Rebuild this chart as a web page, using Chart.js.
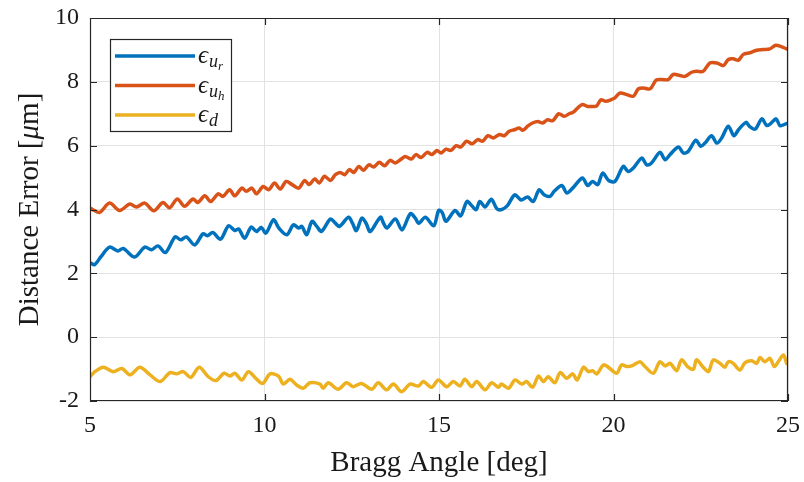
<!DOCTYPE html>
<html>
<head>
<meta charset="utf-8">
<script src="https://cdn.jsdelivr.net/npm/chart.js@4"></script>
<style>
  html, body { margin: 0; padding: 0; background: #fff; }
  #chart { display: block; }
</style>
</head>
<body>
<canvas id="chart" width="804" height="482"></canvas>
<script>
// eps_ur (blue)
const urX = [5.02,5.13,5.32,5.56,5.80,5.95,6.28,6.57,6.76,6.95,7.16,7.44,7.60,7.76,8.00,8.24,8.36,8.52,8.74,8.97,
  9.15,9.26,9.43,9.62,9.77,9.91,10.04,10.26,10.41,10.64,10.83,10.98,11.07,11.21,11.36,11.50,11.63,11.89,12.03,12.15,
  12.41,12.52,12.63,12.79,12.91,13.03,13.32,13.41,13.51,13.75,13.94,14.18,14.32,14.42,14.61,14.85,14.99,15.09,15.20,15.46,
  15.62,15.80,15.94,16.06,16.17,16.32,16.50,16.66,16.80,16.96,17.17,17.35,17.54,17.70,17.87,18.01,18.18,18.30,18.52,18.66,
  18.83,19.11,19.26,19.40,19.55,19.69,19.86,20.04,20.28,20.42,20.57,20.81,20.95,21.09,21.33,21.48,21.62,21.86,22.00,22.14,
  22.36,22.50,22.62,22.81,22.96,23.10,23.29,23.45,23.58,23.80,23.89,24.06,24.25,24.39,24.50,24.66,24.77,24.96];
const urY = [2.32,2.27,2.53,2.82,2.70,2.78,2.51,2.82,2.74,2.86,2.65,3.14,3.05,3.14,2.89,3.24,3.18,3.28,3.07,3.49,
  3.34,3.39,3.10,3.45,3.31,3.44,3.26,3.68,3.42,3.21,3.52,3.42,3.47,3.21,3.63,3.47,3.31,3.70,3.57,3.47,
  3.76,3.57,3.34,3.73,3.57,3.31,3.76,3.57,3.42,3.70,3.36,3.87,3.73,3.57,3.76,3.49,3.97,3.91,3.63,3.97,
  3.80,4.25,4.12,3.99,4.25,4.08,4.32,4.02,4.00,4.12,4.46,4.30,4.39,4.25,4.62,4.46,4.41,4.57,4.75,4.52,
  4.67,4.99,4.75,4.88,4.78,5.14,4.91,4.88,5.35,5.19,5.30,5.61,5.40,5.46,5.79,5.56,5.72,5.96,5.77,5.82,
  6.17,5.98,6.08,6.31,6.08,6.24,6.61,6.31,6.50,6.73,6.61,6.52,6.84,6.63,6.69,6.84,6.63,6.69];

// eps_uh (orange)
const uhX = [5.00,5.09,5.28,5.56,5.85,6.14,6.33,6.57,6.83,7.09,7.28,7.50,7.71,7.95,8.09,8.29,8.46,8.67,8.81,9.00,
  9.15,9.35,9.48,9.64,9.77,9.96,10.12,10.29,10.45,10.62,10.79,10.98,11.15,11.28,11.44,11.57,11.72,11.89,12.03,12.17,
  12.30,12.43,12.56,12.70,12.84,12.99,13.13,13.29,13.44,13.60,13.75,13.92,14.03,14.21,14.34,14.49,14.66,14.80,14.94,15.06,
  15.20,15.34,15.49,15.63,15.79,15.95,16.11,16.25,16.40,16.56,16.73,16.87,17.01,17.16,17.30,17.40,17.54,17.68,17.83,17.97,
  18.11,18.26,18.43,18.59,18.73,18.85,19.00,19.11,19.26,19.40,19.52,19.64,19.78,19.93,20.04,20.19,20.38,20.57,20.71,20.85,
  21.05,21.22,21.38,21.57,21.71,21.90,22.05,22.24,22.38,22.57,22.76,22.96,23.15,23.29,23.43,23.58,23.72,23.91,24.10,24.29,
  24.48,24.63,24.77,24.96];
const uhY = [4.05,3.99,3.91,4.20,3.97,4.17,4.08,4.20,3.96,4.22,4.05,4.33,4.10,4.33,4.22,4.43,4.25,4.49,4.41,4.62,
  4.43,4.67,4.57,4.67,4.49,4.72,4.62,4.83,4.64,4.88,4.78,4.67,4.91,4.78,4.96,4.83,5.04,4.91,5.09,5.16,
  5.09,5.25,5.16,5.35,5.23,5.40,5.33,5.48,5.37,5.54,5.46,5.58,5.66,5.58,5.72,5.63,5.79,5.72,5.85,5.77,
  5.89,5.85,6.00,5.96,6.14,6.06,6.19,6.14,6.31,6.24,6.35,6.31,6.45,6.50,6.55,6.48,6.61,6.71,6.76,6.71,
  6.81,6.78,7.00,6.92,7.00,7.05,7.21,7.29,7.23,7.23,7.25,7.44,7.39,7.44,7.50,7.65,7.60,7.55,7.78,7.81,
  7.78,8.05,8.07,8.07,8.23,8.20,8.17,8.30,8.33,8.33,8.59,8.59,8.51,8.70,8.72,8.68,8.86,8.91,8.99,9.01,
  9.03,9.14,9.12,9.03];

// eps_d (yellow)
const dX = [5.00,5.14,5.38,5.67,5.91,6.15,6.43,6.72,7.01,7.29,7.48,7.67,7.89,8.13,8.39,8.61,8.84,9.01,9.15,9.35,
  9.54,9.78,9.95,10.16,10.40,10.54,10.73,10.92,11.11,11.30,11.59,11.68,11.83,12.11,12.35,12.54,12.78,13.07,13.26,13.50,
  13.69,13.93,14.17,14.41,14.55,14.79,14.98,15.22,15.41,15.60,15.74,15.94,16.08,16.32,16.51,16.70,16.79,16.99,17.18,17.37,
  17.51,17.68,17.85,17.99,18.13,18.32,18.47,18.66,18.83,18.96,19.14,19.28,19.40,19.52,19.71,19.85,20.09,20.23,20.38,20.52,
  20.76,20.90,21.14,21.33,21.48,21.62,21.81,21.95,22.14,22.29,22.38,22.57,22.72,22.86,23.05,23.19,23.29,23.43,23.62,23.77,
  23.96,24.10,24.20,24.34,24.48,24.61,24.72,24.87,24.96];
const dY = [-1.24,-1.08,-0.94,-1.08,-0.98,-1.18,-0.94,-1.18,-1.39,-1.11,-1.15,-1.08,-1.26,-0.94,-1.24,-1.36,-1.13,-1.22,-1.13,-1.34,
  -1.08,-1.32,-1.45,-1.15,-1.22,-1.47,-1.32,-1.50,-1.60,-1.43,-1.47,-1.60,-1.43,-1.63,-1.43,-1.55,-1.45,-1.63,-1.43,-1.65,
  -1.47,-1.71,-1.47,-1.53,-1.39,-1.57,-1.34,-1.55,-1.39,-1.53,-1.32,-1.55,-1.39,-1.65,-1.43,-1.57,-1.47,-1.60,-1.34,-1.47,
  -1.39,-1.57,-1.22,-1.39,-1.24,-1.43,-1.11,-1.29,-1.15,-1.34,-0.94,-1.08,-1.05,-1.15,-0.87,-0.94,-1.13,-0.87,-0.92,-0.90,
  -0.77,-0.92,-1.13,-0.77,-0.90,-0.82,-1.05,-0.71,-0.94,-1.00,-0.71,-0.94,-1.08,-0.71,-0.82,-0.94,-0.77,-0.82,-1.03,-0.80,
  -0.74,-0.82,-0.64,-0.77,-0.66,-0.92,-0.77,-0.56,-0.82];

const xTicks = [5, 10, 15, 20, 25];
const yTicks = [-2, 0, 2, 4, 6, 8, 10];

const FONT = "'Liberation Serif', 'Times New Roman', serif";
const INK = "#1a1a1a";
const AXIS = "#262626";
const GRID = "#e2e2e2";

const series = [
  { name: "ur", sub: "r", xs: urX, ys: urY, color: "#0072BD" },
  { name: "uh", sub: "h", xs: uhX, ys: uhY, color: "#D95319" },
  { name: "d",  sub: null, xs: dX, ys: dY, color: "#EDB120" },
];

const pts = (xs, ys) => xs.map((x, i) => ({ x, y: ys[i] }));

// MATLAB style box with inward ticks on all four sides
const boxPlugin = {
  id: "box",
  afterDatasetsDraw(chart){
    const { ctx, chartArea: a, scales } = chart;
    const len = 7;
    ctx.save();
    ctx.strokeStyle = AXIS;
    ctx.lineWidth = 1.2;
    ctx.beginPath();
    ctx.rect(Math.round(a.left) + 0.5, Math.round(a.top) + 0.5,
             Math.round(a.right - a.left) - 1, Math.round(a.bottom - a.top) - 1);
    for (const v of xTicks){
      const px = Math.round(scales.x.getPixelForValue(v)) + 0.5;
      ctx.moveTo(px, a.bottom); ctx.lineTo(px, a.bottom - len);
      ctx.moveTo(px, a.top); ctx.lineTo(px, a.top + len);
    }
    for (const v of yTicks){
      const py = Math.round(scales.y.getPixelForValue(v)) + 0.5;
      ctx.moveTo(a.left, py); ctx.lineTo(a.left + len, py);
      ctx.moveTo(a.right, py); ctx.lineTo(a.right - len, py);
    }
    ctx.stroke();
    ctx.restore();
  }
};

// y title drawn by hand so mu can be italic
const yTitlePlugin = {
  id: "yTitle",
  afterDraw(chart){
    const { ctx, chartArea: a } = chart;
    const parts = [
      { t: "Distance Error [", f: `29px ${FONT}` },
      { t: "μ", f: `italic 29px ${FONT}` },
      { t: "m]", f: `29px ${FONT}` },
    ];
    ctx.save();
    let w = 0;
    for (const p of parts){ ctx.font = p.f; w += ctx.measureText(p.t).width; }
    ctx.translate(30, (a.top + a.bottom) / 2);
    ctx.rotate(-Math.PI / 2);
    ctx.fillStyle = INK;
    ctx.textBaseline = "middle";
    let x = -w / 2;
    for (const p of parts){
      ctx.font = p.f;
      ctx.fillText(p.t, x, 0);
      x += ctx.measureText(p.t).width;
    }
    ctx.restore();
  }
};

// legend box with epsilon + nested subscripts
const legendPlugin = {
  id: "epsLegend",
  afterDraw(chart){
    const { ctx, chartArea: a } = chart;
    const bx = a.left + 20, by = a.top + 21, bw = 121, bh = 92;
    ctx.save();
    ctx.fillStyle = "#fff";
    ctx.fillRect(bx, by, bw, bh);
    ctx.strokeStyle = AXIS;
    ctx.lineWidth = 1.2;
    ctx.strokeRect(Math.round(bx) + 0.5, Math.round(by) + 0.5, bw, bh);

    series.forEach((s, i) => {
      const cy = by + 17 + i * 29.5;
      ctx.strokeStyle = s.color;
      ctx.lineWidth = 3.5;
      ctx.beginPath();
      ctx.moveTo(bx + 5, cy); ctx.lineTo(bx + 85, cy);
      ctx.stroke();

      ctx.fillStyle = INK;
      ctx.textBaseline = "alphabetic";
      ctx.font = `italic 25px ${FONT}`;
      let tx = bx + 88;
      ctx.fillText("ϵ", tx, cy + 7);
      tx += ctx.measureText("ϵ").width + 1;
      ctx.font = `italic 18px ${FONT}`;
      const first = s.sub ? "u" : "d";
      ctx.fillText(first, tx, cy + 11);
      if (s.sub){
        tx += ctx.measureText("u").width;
        ctx.font = `italic 13px ${FONT}`;
        ctx.fillText(s.sub, tx, cy + 14);
      }
    });
    ctx.restore();
  }
};

new Chart(document.getElementById("chart"), {
  type: "line",
  data: {
    datasets: series.map(s => ({
      label: s.name,
      data: pts(s.xs, s.ys),
      borderColor: s.color,
      backgroundColor: s.color,
      borderWidth: 3.5,
      pointRadius: 0,
      tension: 0.3,
      borderCapStyle: "round",
      borderJoinStyle: "round",
      fill: false,
    }))
  },
  options: {
    responsive: false,
    animation: false,
    devicePixelRatio: 1,
    layout: { padding: { left: 0, right: 16, top: 18, bottom: 0 } },
    plugins: { legend: { display: false }, tooltip: { enabled: false } },
    scales: {
      x: {
        type: "linear",
        min: 5, max: 25,
        afterBuildTicks: (s) => { s.ticks = xTicks.map(v => ({ value: v })); },
        afterFit: (s) => { s.height = 81; s.paddingLeft = 0; s.paddingRight = 0; },
        ticks: { color: INK, font: { family: FONT, size: 24 }, padding: 10, maxRotation: 0 },
        grid: { color: GRID, drawTicks: false },
        border: { display: false },
        title: { display: true, text: "Bragg Angle [deg]", color: INK,
                 font: { family: FONT, size: 29 }, padding: { top: 0, bottom: 1 } },
      },
      y: {
        min: -2, max: 10,
        afterBuildTicks: (s) => { s.ticks = yTicks.map(v => ({ value: v })); },
        afterFit: (s) => { s.width = 90; s.paddingTop = 0; s.paddingBottom = 0; },
        ticks: { color: INK, font: { family: FONT, size: 24 }, padding: 11 },
        grid: { color: GRID, drawTicks: false },
        border: { display: false },
        title: { display: false },
      }
    }
  },
  plugins: [boxPlugin, yTitlePlugin, legendPlugin]
});
</script>
</body>
</html>
